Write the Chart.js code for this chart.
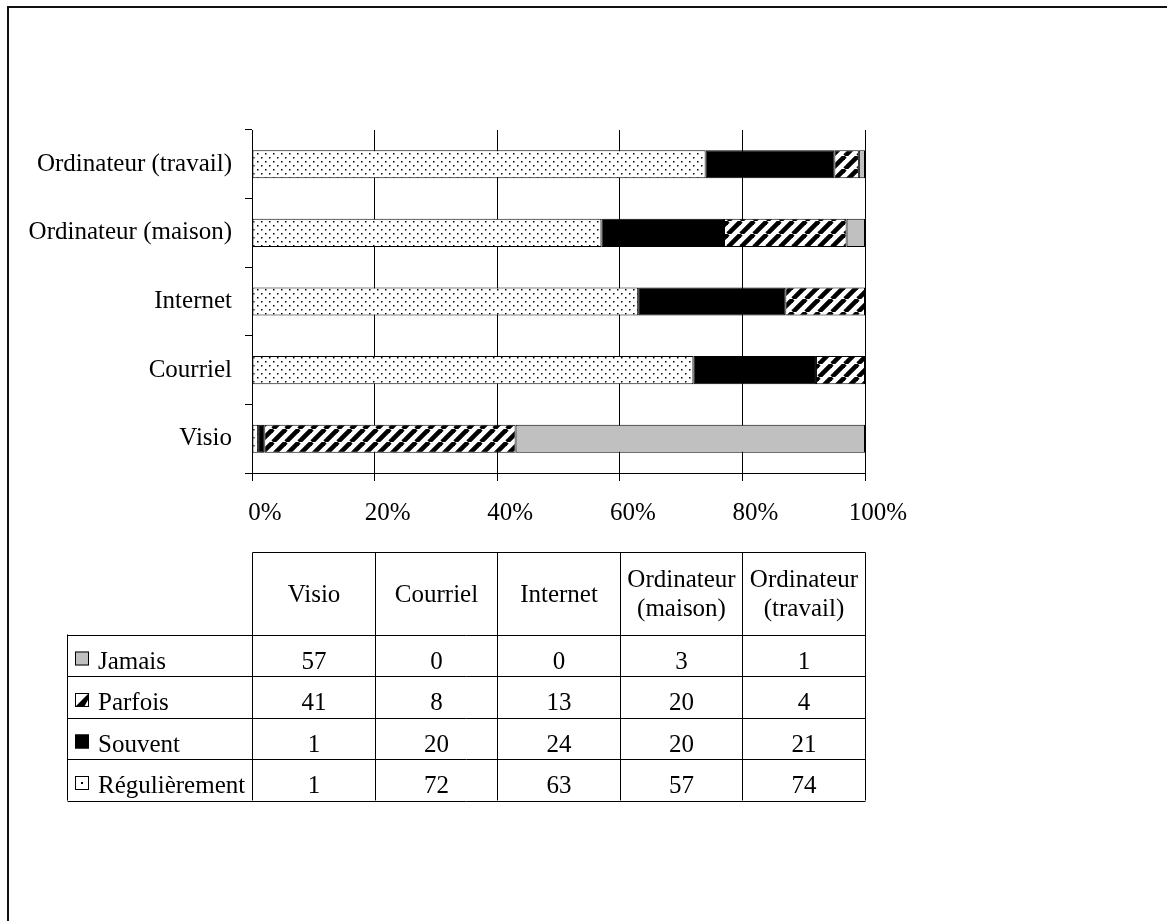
<!DOCTYPE html>
<html>
<head>
<meta charset="utf-8">
<script src="https://cdn.jsdelivr.net/npm/chart.js@4.4.1/dist/chart.umd.min.js"></script>
<style>
  html, body { margin: 0; padding: 0; background: #fff; }
  canvas { display: block; }
</style>
</head>
<body>
<canvas id="chart" width="1167" height="921"></canvas>
<script>
const categories = ["Visio", "Courriel", "Internet", "Ordinateur (maison)", "Ordinateur (travail)"];
const seriesNames = ["Régulièrement", "Souvent", "Parfois", "Jamais"];
const regulierement = [1, 72, 63, 57, 74];
const souvent = [1, 20, 24, 20, 21];
const parfois = [41, 8, 13, 20, 4];
const jamais = [57, 0, 0, 3, 1];
const xTicks = [0, 20, 40, 60, 80, 100];
const xTickLabels = ["0%", "20%", "40%", "60%", "80%", "100%"];

const FONT = "'Liberation Serif', 'Times New Roman', serif";
const FS = 25;

function dotPattern() {
  const c = document.createElement("canvas");
  c.width = 8; c.height = 8;
  const g = c.getContext("2d");
  g.fillStyle = "#fff";
  g.fillRect(0, 0, 8, 8);
  g.fillStyle = "#000";
  g.fillRect(1, 1, 1.5, 1.5);
  g.fillRect(5, 5, 1.5, 1.5);
  return g.createPattern(c, "repeat");
}

function hatchPattern() {
  const s = 13;
  const c = document.createElement("canvas");
  c.width = s; c.height = s;
  const g = c.getContext("2d");
  g.fillStyle = "#fff";
  g.fillRect(0, 0, s, s);
  g.strokeStyle = "#000";
  g.lineWidth = 4.6;
  for (const o of [-s, 0, s]) {
    g.beginPath();
    g.moveTo(o, s);
    g.lineTo(o + s, 0);
    g.stroke();
  }
  return g.createPattern(c, "repeat");
}

const fills = [dotPattern(), "#000000", hatchPattern(), "#c0c0c0"];
const seriesData = [regulierement, souvent, parfois, jamais];

// outer frame, only left and top edges are visible in the picture
const framePlugin = {
  id: "frame",
  beforeDraw(chart) {
    const ctx = chart.ctx;
    ctx.save();
    ctx.fillStyle = "#fff";
    ctx.fillRect(0, 0, chart.width, chart.height);
    ctx.strokeStyle = "#111";
    ctx.lineWidth = 2;
    ctx.beginPath();
    ctx.moveTo(8, chart.height + 2);
    ctx.lineTo(8, 7);
    ctx.lineTo(chart.width + 2, 7);
    ctx.stroke();
    ctx.restore();
  }
};

function drawKey(ctx, i, x, y) {
  const k = 14;
  ctx.save();
  ctx.lineWidth = 1;
  ctx.strokeStyle = "#000";
  if (i === 3) {
    ctx.fillStyle = "#c0c0c0";
    ctx.fillRect(x, y, k, k);
  } else if (i === 2) {
    ctx.fillStyle = "#fff";
    ctx.fillRect(x, y, k, k);
    ctx.fillStyle = "#000";
    ctx.beginPath();
    ctx.moveTo(x, y + k);
    ctx.lineTo(x + k * 0.65, y + k);
    ctx.lineTo(x + k, y + k * 0.35);
    ctx.lineTo(x + k, y);
    ctx.closePath();
    ctx.fill();
  } else if (i === 1) {
    ctx.fillStyle = "#000";
    ctx.fillRect(x, y, k, k);
  } else {
    ctx.fillStyle = "#fff";
    ctx.fillRect(x, y, k, k);
    ctx.fillStyle = "#000";
    ctx.fillRect(x + 6, y + 6, 2, 2);
  }
  ctx.strokeRect(x + 0.5, y + 0.5, k - 1, k - 1);
  ctx.restore();
}

const tablePlugin = {
  id: "dataTable",
  afterDraw(chart) {
    const ctx = chart.ctx;
    const xs = chart.scales.x;
    const cols = xTicks.map(v => Math.round(xs.getPixelForValue(v)) + 0.5);
    const left = 67.5, top = 552.5, headBottom = 634.5, rowH = 41.5;
    const nRows = seriesNames.length;
    const bottom = headBottom + rowH * nRows;

    ctx.save();
    ctx.strokeStyle = "#000";
    ctx.lineWidth = 1;
    ctx.beginPath();
    ctx.moveTo(cols[0], top);
    ctx.lineTo(cols[cols.length - 1], top);
    for (const c of cols) {
      ctx.moveTo(c, top);
      ctx.lineTo(c, bottom);
    }
    ctx.moveTo(left, headBottom);
    ctx.lineTo(left, bottom);
    for (let r = 0; r <= nRows; r++) {
      const y = Math.round(headBottom + r * rowH) + 0.5;
      ctx.moveTo(left, y);
      ctx.lineTo(cols[cols.length - 1], y);
    }
    ctx.stroke();

    ctx.fillStyle = "#000";
    ctx.font = FS + "px " + FONT;
    ctx.textAlign = "center";
    ctx.textBaseline = "alphabetic";
    categories.forEach((cat, j) => {
      const cx = (cols[j] + cols[j + 1]) / 2;
      const lines = cat.split(" (");
      if (lines.length > 1) {
        ctx.fillText(lines[0], cx, 587);
        ctx.fillText("(" + lines[1], cx, 616);
      } else {
        ctx.fillText(cat, cx, 602);
      }
    });

    // rows from Jamais (top) down to Régulièrement
    for (let r = 0; r < nRows; r++) {
      const si = nRows - 1 - r;
      const base = headBottom + r * rowH + 34;
      drawKey(ctx, si, 75, base - 17);
      ctx.textAlign = "left";
      ctx.fillText(seriesNames[si], 98, base);
      ctx.textAlign = "center";
      seriesData[si].forEach((v, j) => {
        ctx.fillText(String(v), (cols[j] + cols[j + 1]) / 2, base);
      });
    }
    ctx.restore();
  }
};

new Chart(document.getElementById("chart"), {
  type: "bar",
  data: {
    labels: categories,
    datasets: seriesNames.map((name, i) => ({
      label: name,
      data: seriesData[i],
      backgroundColor: fills[i],
      borderColor: "#000",
      borderWidth: 1,
      borderSkipped: false,
      barPercentage: 0.41,
      categoryPercentage: 1.0
    }))
  },
  options: {
    indexAxis: "y",
    responsive: false,
    animation: false,
    layout: { padding: { left: 0, top: 130, right: 302, bottom: 388 } },
    plugins: {
      legend: { display: false },
      tooltip: { enabled: false },
      title: { display: false }
    },
    scales: {
      x: {
        stacked: true,
        min: 0,
        max: 100,
        afterFit(s) { s.height = 60; },
        afterBuildTicks(s) { s.ticks = xTicks.map(v => ({ value: v })); },
        ticks: {
          callback: (v) => xTickLabels[xTicks.indexOf(v)],
          color: "#000",
          font: { family: FONT, size: FS },
          padding: 17,
          labelOffset: 13,
          maxRotation: 0
        },
        grid: {
          color: "#000",
          lineWidth: 1,
          tickLength: 8,
          drawOnChartArea: true
        },
        border: { color: "#000", width: 1 }
      },
      y: {
        stacked: true,
        reverse: true,
        afterFit(s) { s.width = 252; },
        ticks: {
          color: "#000",
          font: { family: FONT, size: FS },
          padding: 13
        },
        grid: {
          color: "#000",
          tickLength: 7,
          drawOnChartArea: false,
          offset: true
        },
        border: { color: "#000", width: 1 }
      }
    }
  },
  plugins: [framePlugin, tablePlugin]
});
</script>
</body>
</html>
